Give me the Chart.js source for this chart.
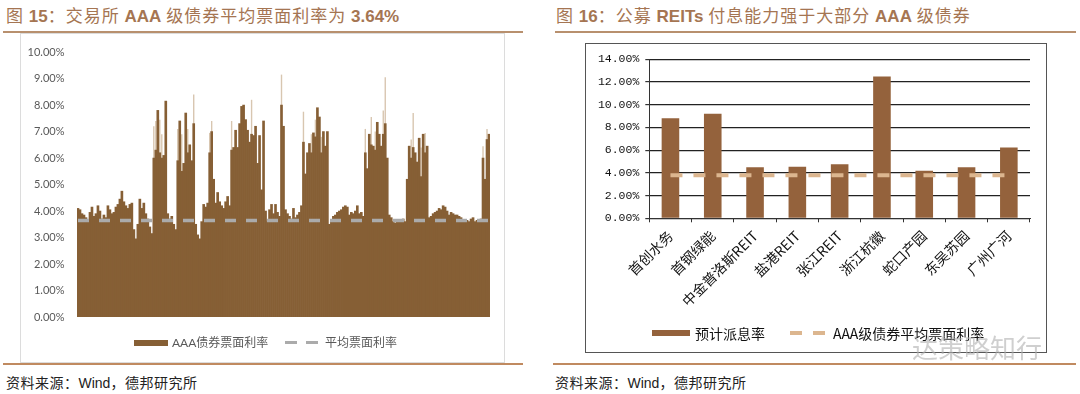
<!DOCTYPE html>
<html lang="zh-CN">
<head>
<meta charset="UTF-8">
<title>AAA债券票面利率与公募REITs派息率</title>
<script src="https://cdn.jsdelivr.net/npm/chart.js"></script>
<style>
    body { margin: 0; width: 1080px; height: 394px; background: #fff; position: relative; overflow: hidden;
           font-family: "Noto Sans CJK SC", sans-serif; }
    .abs { position: absolute; white-space: nowrap; }
    .title { top: 3px; font-size: 17px; line-height: 24px; color: #a57552; letter-spacing: 1px; }
    .title b { font-family: "Liberation Sans", Arial, sans-serif; font-weight: bold; letter-spacing: 0; }
    .rule { height: 2px; background: #b8906e; }
    .src { top: 372px; font-size: 14px; line-height: 20px; color: #222; letter-spacing: 0.5px; }
    .src span { font-family: "Liberation Sans", Arial, sans-serif; letter-spacing: 0; }
    .leg1 { font-family: Lato, "Noto Sans CJK SC", sans-serif; font-size: 12px; line-height: 16px; color: #595959; top: 335px; }
    .leg2 { font-size: 14px; line-height: 18px; color: #111; top: 324px; }
</style>
</head>
<body>
    <div class="abs title" style="left:6px;">图 <b>15</b>：交易所 <b>AAA</b> 级债券平均票面利率为 <b>3.64%</b></div>
    <div class="abs title" style="left:556px;">图 <b>16</b>：公募 <b>REITs</b> 付息能力强于大部分 <b>AAA</b> 级债券</div>
    <div class="abs rule" style="left:3px; top:31px; width:520px;"></div>
    <div class="abs rule" style="left:555px; top:31px; width:521px;"></div>

    <div class="abs" style="left:20px; top:33px; width:485px; height:330px; box-sizing:border-box; border:1.5px solid #dcdcdc;"></div>
    <canvas class="abs" id="couponChart" width="485" height="330" style="left:20px; top:33px;"></canvas>

    <div class="abs" style="left:585px; top:43px; width:462px; height:310px; box-sizing:border-box; border:1.5px solid #555;"></div>
    <canvas class="abs" id="reitChart" width="460" height="308" style="left:586px; top:44px;"></canvas>

    <!-- legends -->
    <div class="abs" style="left:134px; top:340px; width:34px; height:6px; background:#865f35;"></div>
    <div class="abs leg1" style="left:172px;">AAA债券票面利率</div>
    <div class="abs" style="left:285px; top:341px; width:12px; height:3px; background:#ababab;"></div>
    <div class="abs" style="left:306px; top:341px; width:12px; height:3px; background:#ababab;"></div>
    <div class="abs leg1" style="left:325px;">平均票面利率</div>

    <div class="abs" style="left:652px; top:330px; width:38px; height:6px; background:#94623c;"></div>
    <div class="abs leg2" style="left:695px;">预计派息率</div>
    <div class="abs" style="left:790px; top:331px; width:12px; height:4px; background:#dcb68f;"></div>
    <div class="abs" style="left:813px; top:331px; width:12px; height:4px; background:#dcb68f;"></div>
    <div class="abs leg2" style="left:833px;">AAA级债券平均票面利率</div>

    <div class="abs" style="left:912px; top:332px; font-size:26px; line-height:30px; color:rgba(175,175,175,0.6);">达策略知行</div>

    <div class="abs rule" style="left:3px; top:363px; width:520px; background:#c08a60;"></div>
    <div class="abs rule" style="left:553px; top:363px; width:523px; background:#c08a60;"></div>
    <div class="abs src" style="left:6px;">资料来源：<span>Wind</span>，德邦研究所</div>
    <div class="abs src" style="left:555px;">资料来源：<span>Wind</span>，德邦研究所</div>

<script>
    // Fig 15: AAA coupon rates (%) left to right
    const aaaCoupon = [
        4.10, 4.05, 3.90, 3.85, 3.75, 3.62, 3.95, 4.15, 3.80, 3.90,
        4.20, 4.00, 3.70, 3.85, 3.75, 4.20, 4.05, 3.90, 3.95, 4.15,
        4.25, 4.45, 4.75, 4.35, 4.20, 4.10, 4.25, 4.30, 3.30, 2.95,
        3.50, 4.45, 4.10, 4.30, 3.90, 3.70, 3.40, 3.15, 6.00, 6.30,
        7.80, 6.20, 6.00, 6.10, 8.15, 3.90, 3.70, 3.80, 3.50, 3.30,
        5.90, 7.40, 5.50, 5.80, 7.70, 6.20, 6.50, 5.90, 7.30, 3.50,
        3.10, 2.95, 3.60, 4.25, 4.15, 4.30, 6.20, 7.00, 5.20, 4.30,
        4.70, 4.35, 4.20, 4.10, 4.35, 4.55, 4.20, 6.30, 6.40, 7.05,
        6.40, 7.30, 7.95, 8.00, 7.45, 7.05, 6.60, 6.90, 6.85, 7.20,
        5.80, 6.85, 4.80, 7.40, 4.00, 3.60, 4.05, 4.25, 3.90, 4.25,
        3.95, 3.80, 8.00, 7.20, 4.05, 3.90, 3.80, 3.70, 4.10, 3.75,
        3.85, 3.95, 4.20, 6.60, 5.40, 6.20, 6.55, 6.20, 6.95, 6.80,
        7.90, 7.55, 6.20, 7.00, 6.45, 7.00, 3.50, 3.60, 3.80, 3.85,
        3.95, 4.00, 4.05, 4.15, 4.20, 4.15, 3.85, 3.95, 3.90, 4.00,
        4.20, 3.90, 3.95, 3.80, 6.20, 5.60, 6.90, 6.50, 6.45, 6.30,
        7.35, 6.90, 6.45, 6.90, 7.30, 6.00, 3.85, 3.75, 3.60, 3.55,
        3.60, 3.65, 3.60, 3.70, 3.60, 5.20, 6.45, 6.00, 6.40, 6.20,
        5.85, 6.75, 5.30, 6.90, 6.20, 6.45, 3.75, 3.80, 3.90, 3.95,
        4.00, 4.10, 4.05, 4.20, 4.15, 4.00, 3.85, 3.95, 3.90, 3.85,
        3.85, 3.80, 3.75, 3.65, 3.60, 3.65, 3.60, 3.70, 3.75, 3.60,
        3.65, 3.60, 3.70, 6.00, 5.20, 6.70, 6.90
    ];
    // the thin pale spikes above the dark bars (position in the series, top value)
    const spikeAt  = [38, 39, 41, 42, 50, 52, 55, 58, 66, 67, 77, 87, 102, 113, 117, 119, 122, 144, 147, 149, 153, 154, 167, 168, 172, 174, 203, 205];
    const spikeTop = [7.2, 7.4, 7.45, 6.9, 7.1, 6.9, 7.1, 8.4, 6.95, 7.4, 7.4, 8.2, 9.15, 7.75, 6.9, 7.45, 6.8, 7.1, 7.55, 7.0, 7.8, 9.05, 6.7, 7.7, 6.4, 6.95, 6.45, 7.1];
    const aaaAvg = 3.64;
    const couponTicks = [0, 1, 2, 3, 4, 5, 6, 7, 8, 9, 10];

    // Fig 16: REITs expected payout vs AAA average
    const reitNames = ['首创水务', '首钢绿能', '中金普洛斯REIT', '盐港REIT', '张江REIT', '浙江杭徽', '蛇口产园', '东吴苏园', '广州广河'];
    const reitYield = [8.82, 9.2, 4.5, 4.53, 4.76, 12.48, 4.18, 4.5, 6.24];
    const reitAvgLine = 3.79;
    const reitTicks = [0, 2, 4, 6, 8, 10, 12, 14];

    const pct = v => v.toFixed(2) + '%';

    const spikes = aaaCoupon.map(() => null);
    spikeAt.forEach((idx, k) => { spikes[idx] = spikeTop[k]; });

    new Chart(document.getElementById('couponChart'), {
        type: 'bar',
        data: {
            labels: aaaCoupon.map((v, i) => i + 1),
            datasets: [{
                type: 'line',
                label: '平均票面利率',
                data: aaaCoupon.map(() => aaaAvg),
                borderColor: '#ababab',
                borderWidth: 3.5,
                borderDash: [11, 10],
                pointRadius: 0,
                order: 0
            }, {
                label: 'AAA债券票面利率',
                data: aaaCoupon,
                backgroundColor: '#865f35',
                borderWidth: 0,
                grouped: false,
                barPercentage: 1,
                categoryPercentage: 1,
                order: 1
            }, {
                label: 'spikes',
                data: spikes,
                backgroundColor: '#d8c6b0',
                borderWidth: 0,
                grouped: false,
                barPercentage: 0.7,
                categoryPercentage: 1,
                order: 2
            }]
        },
        options: {
            responsive: false,
            animation: false,
            layout: { padding: { top: 15, right: 15, bottom: 46, left: 0 } },
            plugins: { legend: { display: false }, tooltip: { enabled: false } },
            scales: {
                x: { display: false },
                y: {
                    min: 0, max: 10,
                    afterFit: s => { s.width = 57; },
                    afterBuildTicks: s => { s.ticks = couponTicks.map(v => ({ value: v })); },
                    grid: { display: false, drawTicks: false },
                    border: { display: false },
                    ticks: {
                        padding: 12.5,
                        color: '#595959',
                        font: { family: 'Lato', size: 11 },
                        callback: v => pct(v)
                    }
                }
            }
        }
    });

    new Chart(document.getElementById('reitChart'), {
        type: 'bar',
        data: {
            labels: reitNames,
            datasets: [{
                type: 'line',
                label: 'AAA级债券平均票面利率',
                data: reitNames.map(() => reitAvgLine),
                borderColor: '#dcb68f',
                borderWidth: 4,
                borderDash: [12, 11],
                pointRadius: 0,
                order: 0
            }, {
                label: '预计派息率',
                data: reitYield,
                backgroundColor: '#94623c',
                categoryPercentage: 0.8,
                barPercentage: 0.52,
                order: 1
            }]
        },
        options: {
            responsive: false,
            animation: false,
            layout: { padding: { top: 15.3, right: 16, bottom: 0, left: 0 } },
            plugins: { legend: { display: false }, tooltip: { enabled: false } },
            scales: {
                x: {
                    afterFit: s => { s.height = 133.7; },
                    grid: { drawOnChartArea: false, tickLength: 4, color: '#333' },
                    border: { color: '#333' },
                    ticks: {
                        autoSkip: false, maxRotation: 45, minRotation: 45, padding: 5,
                        color: '#111',
                        font: { family: 'Noto Sans CJK SC', size: 14 }
                    }
                },
                y: {
                    min: 0, max: 14,
                    afterFit: s => { s.width = 63.3; },
                    afterBuildTicks: s => { s.ticks = reitTicks.map(v => ({ value: v })); },
                    grid: { color: '#222', lineWidth: 1.2, borderDash: [7, 4], tickLength: 4, tickBorderDash: [], tickColor: '#333' },
                    border: { color: '#333' },
                    ticks: {
                        padding: 6,
                        color: '#111',
                        font: { family: 'Liberation Mono', size: 11.5 },
                        callback: v => pct(v)
                    }
                }
            }
        }
    });
</script>
</body>
</html>
